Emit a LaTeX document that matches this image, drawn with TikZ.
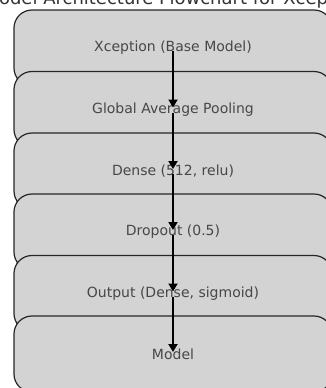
\documentclass[tikz,border=0pt]{standalone}
\usepackage{fontspec}
\setmainfont{DejaVu Sans}
\usetikzlibrary{arrows.meta}
\definecolor{boxfill}{HTML}{D3D3D3}
\definecolor{boxtext}{HTML}{474747}
\definecolor{titletext}{HTML}{333333}
\tikzset{
  layerbox/.style={draw=black!85, line width=1.2pt, fill=boxfill, rounded corners=18pt,
    minimum width=318pt, minimum height=76pt, inner sep=0pt, text=boxtext,
    font=\fontsize{14}{16}\selectfont},
  flowarrow/.style={line width=2.4pt, -{Triangle[width=9pt,length=8pt]}},
}
\begin{document}
\begin{tikzpicture}[x=1pt,y=-1pt]
\useasboundingbox (0,0) rectangle (326,388);
\clip (0,0) rectangle (326,388);
\node[anchor=base, text=titletext, font=\fontsize{18}{20}\selectfont, inner sep=0pt] (title) at (173,5) {Model Architecture Flowchart for Xception};
\node[layerbox] (b1) at (173,48) {Xception (Base Model)};
\node[layerbox] (b2) at (173,109.5) {Global Average Pooling};
\node[layerbox] (b3) at (173,171) {Dense (512, relu)};
\node[layerbox] (b4) at (173,232) {Dropout (0.5)};
\node[layerbox] (b5) at (173,293.5) {Output (Dense, sigmoid)};
\node[layerbox] (b6) at (173,354) {Model};
\draw[flowarrow] ([yshift=-3pt]b1.center) -- ([yshift=2pt]b2.center);
\draw[flowarrow] ([yshift=-3pt]b2.center) -- ([yshift=2pt]b3.center);
\draw[flowarrow] ([yshift=-3pt]b3.center) -- ([yshift=2pt]b4.center);
\draw[flowarrow] ([yshift=-3pt]b4.center) -- ([yshift=2pt]b5.center);
\draw[flowarrow] ([yshift=-3pt]b5.center) -- ([yshift=2pt]b6.center);
\end{tikzpicture}
\end{document}
